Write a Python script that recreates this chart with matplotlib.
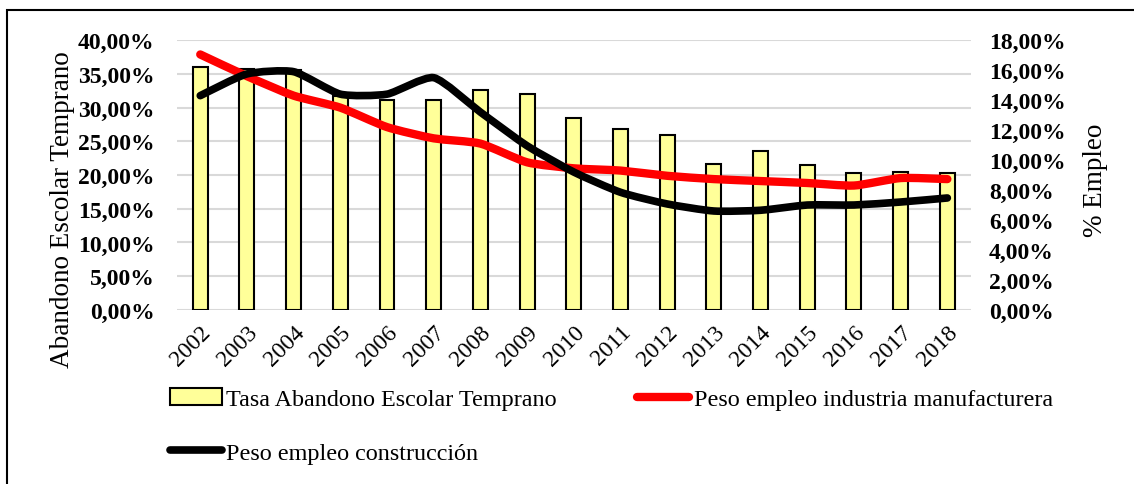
import matplotlib
matplotlib.use('Agg')
import matplotlib.pyplot as plt
from matplotlib.ticker import FuncFormatter
from matplotlib.patches import Rectangle, PathPatch
from matplotlib.path import Path
from matplotlib.lines import Line2D
import numpy as np

# Datos
years = ['2002', '2003', '2004', '2005', '2006', '2007', '2008', '2009', '2010',
         '2011', '2012', '2013', '2014', '2015', '2016', '2017', '2018']
abandono = [36.0, 35.8, 35.6, 31.8, 31.2, 31.2, 32.6, 32.0, 28.4,
            26.8, 25.9, 21.7, 23.5, 21.5, 20.3, 20.4, 20.3]
manufactura = [17.05, 15.6, 14.3, 13.5, 12.2, 11.45, 11.1, 9.85, 9.45,
               9.3, 8.95, 8.73, 8.6, 8.47, 8.3, 8.8, 8.73]
construccion = [14.3, 15.75, 15.9, 14.4, 14.4, 15.5, 13.2, 10.95, 9.2,
                7.85, 7.07, 6.6, 6.65, 7.0, 7.0, 7.2, 7.47]


def smooth_path(xs, ys, k=10.0):
    # curva suavizada (Bezier cubica que pasa por los puntos)
    p = np.column_stack([xs, ys]).astype(float)
    n = len(p)
    verts = [p[0]]
    codes = [Path.MOVETO]
    for i in range(n - 1):
        p0 = p[i - 1] if i > 0 else p[i]
        p3 = p[i + 2] if i + 2 < n else p[i + 1]
        c1 = p[i] + (p[i + 1] - p0) / k
        c2 = p[i + 1] - (p3 - p[i]) / k
        verts += [c1, c2, p[i + 1]]
        codes += [Path.CURVE4] * 3
    return Path(verts, codes)


plt.rcParams['font.family'] = ['Liberation Serif', 'DejaVu Serif']

fig = plt.figure(figsize=(11.34, 4.85), dpi=100)
ax = fig.add_axes([0.156, 0.359, 0.700, 0.556])
ax2 = ax.twinx()

x = np.arange(len(years))
b = ax.bar(x, abandono, width=0.32, color='#ffff99', edgecolor='black', linewidth=1.5,
           label='Tasa Abandono Escolar Temprano', zorder=2)
ax2.add_patch(PathPatch(smooth_path(x, manufactura), fill=False, edgecolor='#ff0000',
                        linewidth=6, capstyle='round', joinstyle='round'))
ax2.add_patch(PathPatch(smooth_path(x, construccion), fill=False, edgecolor='black',
                        linewidth=5.5, capstyle='round', joinstyle='round'))
l1 = Line2D([], [], color='#ff0000', linewidth=6, solid_capstyle='round',
            label='Peso empleo industria manufacturera')
l2 = Line2D([], [], color='black', linewidth=5.5, solid_capstyle='round',
            label='Peso empleo construcción')

ax.set_xlim(-0.5, len(years) - 0.5)
ax.set_ylim(0, 40)
ax2.set_ylim(0, 18)
ax.set_yticks(np.arange(0, 41, 5))
ax2.set_yticks(np.arange(0, 19, 2))
fmt = FuncFormatter(lambda v, p: ('%.2f' % v).replace('.', ',') + '%')
ax.yaxis.set_major_formatter(fmt)
ax2.yaxis.set_major_formatter(fmt)
ax.grid(axis='y', color='#d9d9d9', linewidth=1.5, zorder=0)
ax.set_axisbelow(True)

for a in (ax, ax2):
    for s in a.spines.values():
        s.set_visible(False)
    a.tick_params(length=0)

ax.tick_params(axis='y', labelsize=17, pad=16)
ax2.tick_params(axis='y', labelsize=17, pad=13)
for t in ax.get_yticklabels() + ax2.get_yticklabels():
    t.set_fontweight('bold')

ax.set_xticks(x)
ax.set_xticklabels(years, rotation=45, ha='right', rotation_mode='anchor', fontsize=17)
ax.tick_params(axis='x', pad=8)

ax.set_ylabel('Abandono Escolar Temprano', fontsize=19.5)
ax.yaxis.set_label_coords(-0.129, 0.377)
ax2.set_ylabel('% Empleo', fontsize=19.5)
ax2.yaxis.set_label_coords(1.142, 0.485)

fig.legend(handles=[b, l2, l1], loc='upper left', bbox_to_anchor=(0.141, 0.217),
           ncol=2, frameon=False, fontsize=17.4, handlelength=2.15, handletextpad=0.2,
           columnspacing=3.3, labelspacing=1.3, borderaxespad=0)

# marco exterior
fig.patches.append(Rectangle((7 / 1134, -0.1), 1.2, (485 - 11) / 485 + 0.1,
                             transform=fig.transFigure, fill=False,
                             edgecolor='black', linewidth=1.5))

fig.savefig('out.png', dpi=100)
